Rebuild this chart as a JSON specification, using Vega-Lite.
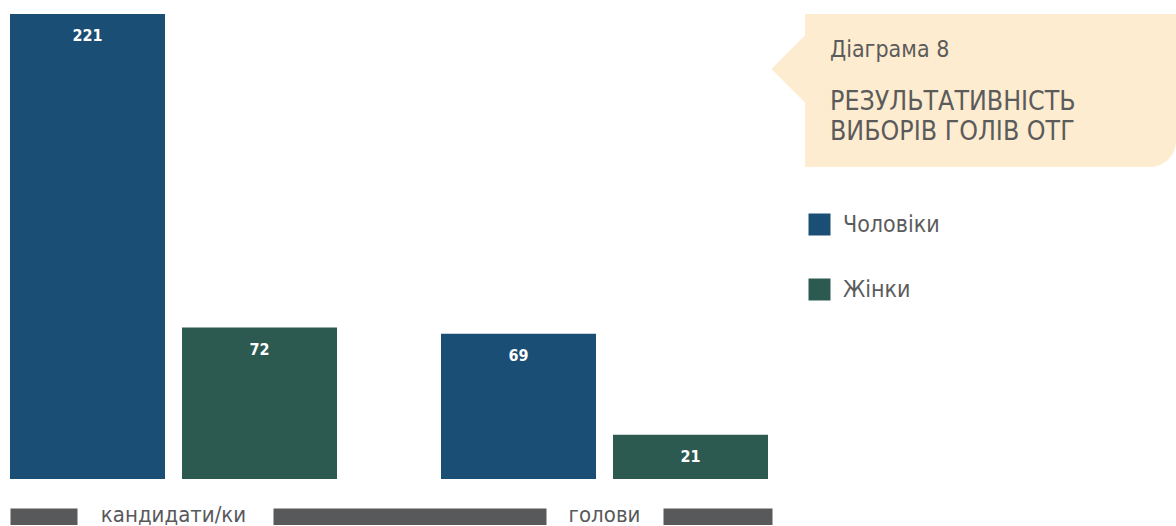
{
  "$schema": "https://vega.github.io/schema/vega-lite/v6.json",
  "padding": {"left": 0, "top": 14, "right": 0, "bottom": 0},
  "autosize": {"type": "pad"},
  "background": "white",
  "spacing": 27,
  "bounds": "flush",
  "config": {
    "view": {"stroke": null},
    "font": "Liberation Sans Narrow, DejaVu Sans Condensed, sans-serif",
    "style": {"panel": {"cornerRadiusBottomRight": 26}}
  },
  "hconcat": [
    {
      "width": 778,
      "height": 465,
      "data": {
        "values": [
          {"category": "кандидати/ки", "gender": "Чоловіки", "value": 221},
          {"category": "кандидати/ки", "gender": "Жінки", "value": 72},
          {"category": "голови", "gender": "Чоловіки", "value": 69},
          {"category": "голови", "gender": "Жінки", "value": 21}
        ]
      },
      "encoding": {
        "x": {
          "field": "category",
          "type": "nominal",
          "sort": ["кандидати/ки", "голови"],
          "scale": {"paddingInner": 0.2413, "paddingOuter": 0.0232},
          "axis": {
            "title": null,
            "ticks": false,
            "tickSize": 0,
            "domainWidth": 18,
            "domainColor": "#58595b",
            "domainDash": [0, 10, 67, 196, 273, 117, 109, 100],
            "offset": 38,
            "labelPadding": 4,
            "labelBaseline": "alphabetic",
            "labelAngle": 0,
            "labelFontSize": 22,
            "labelColor": "#58595b",
            "labelFont": "Liberation Sans Narrow, DejaVu Sans Condensed, sans-serif",
            "labelOverlap": false,
            "labelBound": false,
            "labelFlush": false
          }
        },
        "xOffset": {
          "field": "gender",
          "type": "nominal",
          "sort": ["Чоловіки", "Жінки"],
          "scale": {"paddingInner": 0.0988, "paddingOuter": 0}
        },
        "y": {
          "field": "value",
          "type": "quantitative",
          "scale": {"domain": [0, 221], "nice": false},
          "axis": null
        }
      },
      "layer": [
        {
          "mark": {"type": "bar"},
          "encoding": {
            "color": {
              "field": "gender",
              "type": "nominal",
              "scale": {"domain": ["Чоловіки", "Жінки"], "range": ["#1a4e74", "#2c5a51"]},
              "legend": {
                "title": null,
                "orient": "none",
                "legendX": 808,
                "legendY": 199,
                "direction": "vertical",
                "symbolType": "square",
                "symbolSize": 484,
                "symbolStrokeWidth": 0,
                "symbolOpacity": 1,
                "labelFontSize": 23,
                "labelColor": "#5b5b5b",
                "labelFont": "Liberation Sans Narrow, DejaVu Sans Condensed, sans-serif",
                "labelOffset": 12,
                "rowPadding": 41,
                "padding": 0,
                "labelLimit": 300
              }
            }
          }
        },
        {
          "mark": {
            "type": "text",
            "baseline": "top",
            "dy": 14,
            "fill": "white",
            "fontWeight": "bold",
            "fontSize": 16,
            "font": "Liberation Sans Narrow, DejaVu Sans Condensed, sans-serif"
          },
          "encoding": {"text": {"field": "value", "type": "quantitative"}}
        }
      ]
    },
    {
      "width": 371,
      "height": 153,
      "data": {"values": [{"item": "panel"}]},
      "view": {"fill": "#fdecd0", "stroke": null, "style": "panel"},
      "title": {
        "text": "Діаграма 8",
        "subtitle": ["РЕЗУЛЬТАТИВНІСТЬ", "ВИБОРІВ ГОЛІВ ОТГ"],
        "anchor": "start",
        "frame": "group",
        "orient": "top",
        "dx": 25,
        "offset": -131,
        "font": "Liberation Sans Narrow, DejaVu Sans Condensed, sans-serif",
        "fontSize": 23,
        "fontWeight": "normal",
        "color": "#5b5b5b",
        "subtitleFont": "Liberation Sans Narrow, DejaVu Sans Condensed, sans-serif",
        "subtitleFontSize": 26.5,
        "subtitleColor": "#5b5b5b",
        "subtitleLineHeight": 30,
        "subtitlePadding": 27
      },
      "mark": {
        "type": "point",
        "shape": "M-1,0L0,-1L1,0L0,1Z",
        "filled": true,
        "fill": "#fdecd0",
        "opacity": 1,
        "strokeWidth": 0,
        "size": 4489
      },
      "encoding": {
        "x": {"value": 0},
        "y": {"value": 55}
      }
    }
  ]
}
